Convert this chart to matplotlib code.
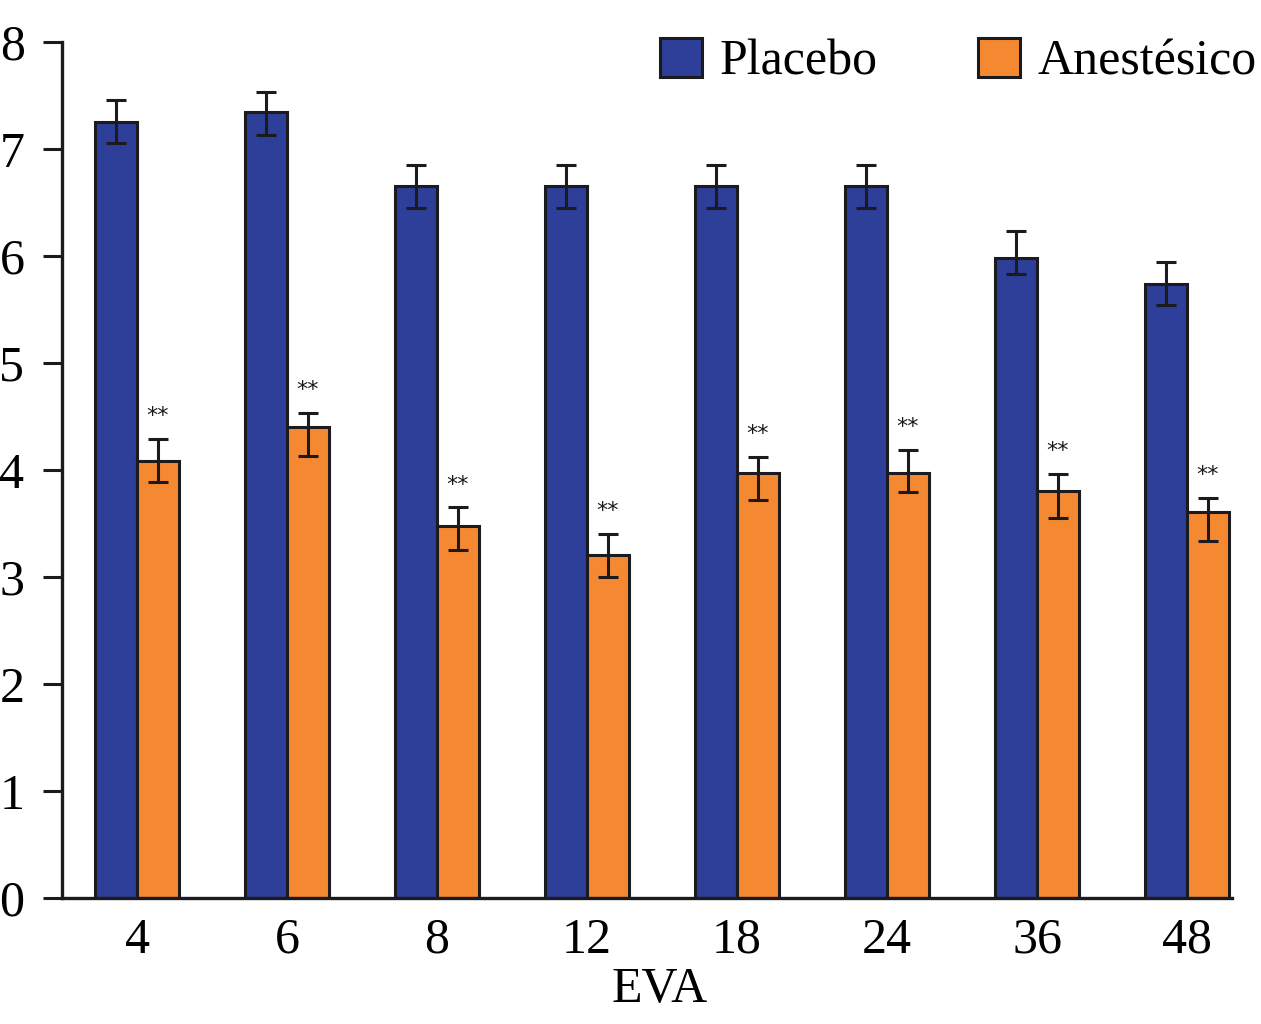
import matplotlib
matplotlib.use("Agg")
import matplotlib.pyplot as plt
import numpy as np

categories = ["4", "6", "8", "12", "18", "24", "36", "48"]
placebo = [7.25, 7.35, 6.65, 6.65, 6.65, 6.65, 5.98, 5.74]
placebo_err_up = [0.21, 0.18, 0.20, 0.20, 0.20, 0.20, 0.25, 0.20]
placebo_err_down = [0.19, 0.22, 0.20, 0.20, 0.20, 0.20, 0.15, 0.20]
anest = [4.08, 4.40, 3.48, 3.21, 3.97, 3.97, 3.80, 3.61]
anest_err_up = [0.21, 0.13, 0.17, 0.19, 0.15, 0.22, 0.16, 0.13]
anest_err_down = [0.19, 0.27, 0.23, 0.21, 0.25, 0.18, 0.25, 0.27]
yticks = [0, 1, 2, 3, 4, 5, 6, 7, 8]

plt.rcParams['font.family'] = ['Liberation Serif', 'DejaVu Serif']

fig = plt.figure(figsize=(12.61, 10.24), dpi=100)
ax = fig.add_axes([62/1261, 1-898/1024, 1170/1261, 856/1024])

x = np.arange(len(categories))
w = 0.28
blue = "#2D3F98"
orange = "#F58932"
edge = "#1b1b1f"
ekw = dict(elinewidth=2.2, capthick=2.2, ecolor=edge)

ax.bar(x - w/2, placebo, w, color=blue, edgecolor=edge, linewidth=2.2, label="Placebo", zorder=2)
ax.bar(x + w/2, anest, w, color=orange, edgecolor=edge, linewidth=2.2, label="Anestésico", zorder=2)
ax.errorbar(x - w/2, placebo, yerr=[placebo_err_down, placebo_err_up], fmt='none', capsize=7, zorder=3, **ekw)
ax.errorbar(x + w/2, anest, yerr=[anest_err_down, anest_err_up], fmt='none', capsize=7, zorder=3, **ekw)

for xi, v, e in zip(x, anest, anest_err_up):
    ax.text(xi + w/2, v + e + 0.12, "**", ha='center', va='bottom', fontsize=16,
            family=['DejaVu Sans'], color='#1a1a1a')

ax.set_xlim(-0.5, 7.3)
ax.set_ylim(0, 8)
ax.set_yticks(yticks)
ax.set_yticklabels([str(t) for t in yticks], fontsize=36)
ax.set_xticks(x)
ax.set_xticklabels(categories, fontsize=36)
ax.tick_params(axis='x', length=0, pad=14)
ax.tick_params(axis='y', length=14, width=2.2, pad=13, color=edge)
for s in ['top', 'right']:
    ax.spines[s].set_visible(False)
for s in ['left', 'bottom']:
    ax.spines[s].set_linewidth(2.4)
    ax.spines[s].set_color(edge)
ax.set_xlabel("EVA", fontsize=36)
ax.xaxis.set_label_coords((660-62)/1170, -(990-898)/856)
ax.xaxis.label.set_va('center')

leg = fig.legend(loc='center left', bbox_to_anchor=(660/1261, 1-62/1024), ncol=2,
                 frameon=False, fontsize=36, handlelength=0.84, handleheight=0.8,
                 handletextpad=0.36, columnspacing=2.0, borderpad=0, borderaxespad=0)

fig.savefig("out.png", dpi=100)
